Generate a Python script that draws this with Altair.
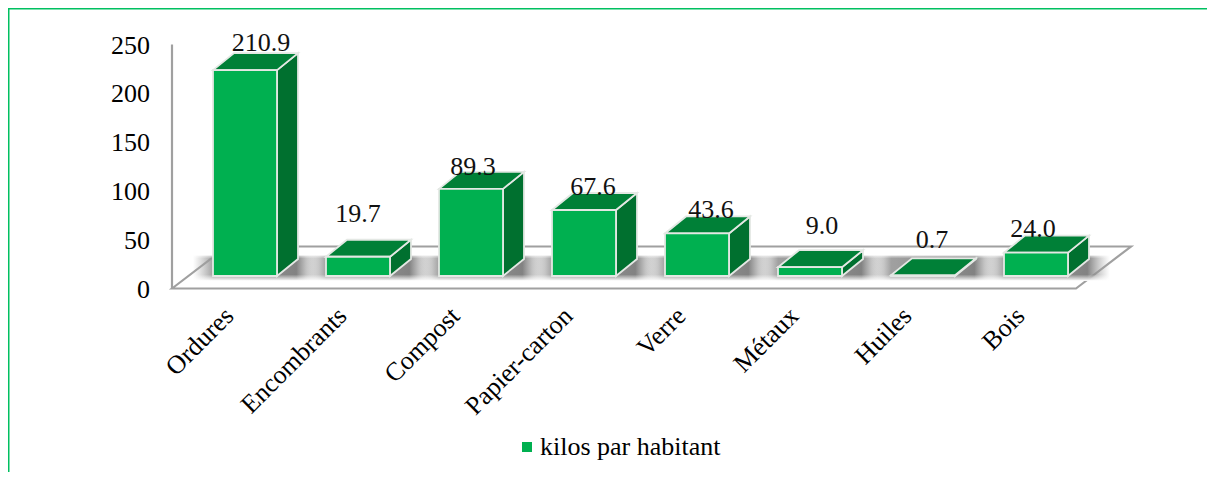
import altair as alt
import pandas as pd

categories = ["Ordures", "Encombrants", "Compost", "Papier-carton", "Verre", "Métaux", "Huiles", "Bois"]
values = [210.9, 19.7, 89.3, 67.6, 43.6, 9.0, 0.7, 24.0]
y_ticks = [0, 50, 100, 150, 200, 250]
series_name = "kilos par habitant"

# layout (pixels inside the plot rectangle)
W, H = 1199, 464
AX_X, AX_Y = 164, 280.5
PX_BAND, PX_UNIT = 113.0, 0.976
FLOOR_DX, FLOOR_DY = 55, 42
BAR_W, BAR_DX, BAR_DY, BAR_SHIFT, BAR_LIFT = 64, 21, 17, 16.5, 12.5
LABEL_NUDGE = [(16, -10), (0, -26), (2, -5), (9, -6), (14, -6), (12, -24), (9, -18), (-3, -7)]

FRONT, TOP, SIDE = "#00B050", "#008037", "#00702F"
EDGE = "#E4E8E4"
AXIS_GREY = "#A0A0A0"
FRAME = "#00C060"
FONT = "Liberation Serif"


def bx(p):
    return p / PX_BAND


def vy(p):
    return p / PX_UNIT


x_scale = alt.Scale(domain=[bx(-AX_X), bx(W - AX_X)], nice=False, zero=False)
y_scale = alt.Scale(domain=[vy(-(H - AX_Y)), vy(AX_Y)], nice=False, zero=False)
X = alt.X("x:Q", scale=x_scale, axis=None)
Y = alt.Y("y:Q", scale=y_scale, axis=None, stack=None)

# floor parallelogram
n = len(categories)
fd = pd.DataFrame({
    "x": [0, bx(FLOOR_DX), n, n + bx(FLOOR_DX)],
    "y": [0, vy(FLOOR_DY), vy(FLOOR_DY), vy(FLOOR_DY)],
    "y2": [0, 0, 0, vy(FLOOR_DY)],
})
floor = alt.Chart(fd).mark_area(fill="#FFFFFF", stroke=AXIS_GREY, strokeWidth=2.2).encode(x=X, y=Y, y2="y2:Q")

wall = alt.Chart(pd.DataFrame({"x": [0], "y": [0], "y2": [250]})).mark_rule(
    color=AXIS_GREY, strokeWidth=2.2).encode(x=X, y=Y, y2="y2:Q")

# geometry per bar, in data units
front_rows, face_rows, shadow_rows, label_rows = [], [], [], []
for i, (c, v) in enumerate(zip(categories, values)):
    left = i + 0.5 + bx(BAR_SHIFT - BAR_W / 2)
    right = left + bx(BAR_W)
    base = vy(BAR_LIFT)
    top = base + v
    ddx, ddy = bx(BAR_DX), vy(BAR_DY)
    front_rows.append({"x": left, "x2": right, "y": base, "y2": top, "series": series_name})
    for name, fill, pts in [
        ("side", SIDE, [(right, top, base), (right + ddx, top + ddy, base + ddy)]),
        ("top", TOP, [(left, top, top), (left + ddx, top + ddy, top), (right, top + ddy, top), (right + ddx, top + ddy, top + ddy)]),
    ]:
        for px, py, py2 in pts:
            face_rows.append({"id": f"{i}-{name}", "fill": fill, "x": px, "y": py, "y2": py2})
    shadow_rows.append({"x": left - bx(20), "x2": right + ddx + bx(21), "y": vy(8), "y2": vy(33)})
    nx, ny = LABEL_NUDGE[i]
    label_rows.append({"x": i + 0.5 + bx(BAR_SHIFT + nx), "y": top + ddy - vy(ny), "t": f"{v:.1f}"})

grad = alt.LinearGradient(
    gradient="linear", x1=0, x2=1, y1=0, y2=0,
    stops=[
        alt.GradientStop(color="rgba(170,170,170,0)", offset=0),
        alt.GradientStop(color="rgba(150,150,150,0.9)", offset=0.16),
        alt.GradientStop(color="rgba(130,130,130,1)", offset=0.82),
        alt.GradientStop(color="rgba(170,170,170,0)", offset=1),
    ],
)
shadows = alt.Chart(pd.DataFrame(shadow_rows)).mark_rect(fill=grad).encode(x=X, x2="x2:Q", y=Y, y2="y2:Q")

# soft lower and upper edges of the shadow band
mask_lo = alt.LinearGradient(gradient="linear", x1=0, x2=0, y1=1, y2=0, stops=[
    alt.GradientStop(color="rgba(255,255,255,1)", offset=0),
    alt.GradientStop(color="rgba(255,255,255,0)", offset=1)])
mask_hi = alt.LinearGradient(gradient="linear", x1=0, x2=0, y1=0, y2=1, stops=[
    alt.GradientStop(color="rgba(255,255,255,0.7)", offset=0),
    alt.GradientStop(color="rgba(255,255,255,0)", offset=1)])
band_l, band_r = shadow_rows[0]["x"], shadow_rows[-1]["x2"]
fade_lo = alt.Chart(pd.DataFrame({"x": [band_l], "x2": [band_r], "y": [vy(7.5)], "y2": [vy(14)]})).mark_rect(
    fill=mask_lo).encode(x=X, x2="x2:Q", y=Y, y2="y2:Q")
fade_hi = alt.Chart(pd.DataFrame({"x": [band_l], "x2": [band_r], "y": [vy(30)], "y2": [vy(33.5)]})).mark_rect(
    fill=mask_hi).encode(x=X, x2="x2:Q", y=Y, y2="y2:Q")

faces = alt.Chart(pd.DataFrame(face_rows)).mark_area(stroke=EDGE, strokeWidth=1.8).encode(
    x=X, y=Y, y2="y2:Q",
    fill=alt.Fill("fill:N", scale=None),
    detail="id:N",
)

bars = alt.Chart(pd.DataFrame(front_rows)).mark_bar(stroke=EDGE, strokeWidth=1.8).encode(
    x=X, x2="x2:Q", y=Y, y2="y2:Q",
    color=alt.Color("series:N", scale=alt.Scale(range=[FRONT]), legend=alt.Legend(
        orient="none", legendX=506, legendY=426, title=None, symbolType="square", symbolSize=100,
        symbolStrokeWidth=0, labelLimit=300, labelOffset=0)),
)

labels = alt.Chart(pd.DataFrame(label_rows)).mark_text(font=FONT, fontSize=26, color="#111111").encode(
    x=X, y=Y, text="t:N")

# tick labels, anchored through the same scales
y_tick_df = pd.DataFrame({"x": [bx(-22)] * len(y_ticks), "y": y_ticks, "t": [str(t) for t in y_ticks]})
y_labels = alt.Chart(y_tick_df).mark_text(font=FONT, fontSize=26, color="#000000", align="right", baseline="middle", dy=1).encode(
    x=X, y=Y, text="t:N")

x_tick_df = pd.DataFrame({
    "x": [i + 0.5 + bx(1) for i in range(n)],
    "y": [vy(-23.5)] * n,
    "t": categories,
})
x_labels = alt.Chart(x_tick_df).mark_text(font=FONT, fontSize=26, color="#000000", align="right", baseline="middle", angle=315).encode(
    x=X, y=Y, text="t:N")

marker = pd.DataFrame({"x": [0.5], "y": [0]})
frame_top = alt.Chart(marker).mark_rule(color=FRAME, strokeWidth=1.5).encode(
    x=alt.value(0), x2=alt.value(W), y=alt.value(0.75))
frame_left = alt.Chart(marker).mark_rule(color=FRAME, strokeWidth=1.5).encode(
    y=alt.value(0), y2=alt.value(H), x=alt.value(0.75))

chart = alt.layer(frame_top, frame_left, floor, shadows, fade_lo, fade_hi, wall, faces, bars, labels, y_labels, x_labels).properties(
    width=W, height=H, padding=0, autosize=alt.AutoSizeParams(type="none"),
    background="#FFFFFF",
).configure_view(stroke=None).configure(
    font=FONT
).configure_legend(
    labelFont=FONT, labelFontSize=26, labelColor="#000000"
)

chart.save("out.html", embed_options={"renderer": "svg", "actions": False})
